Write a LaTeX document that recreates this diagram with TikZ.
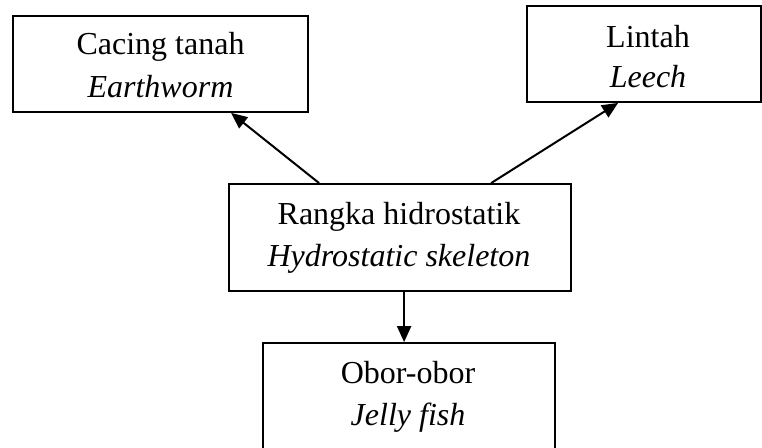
\documentclass[tikz,border=0pt]{standalone}
\usepackage{fontspec}
\setmainfont{Liberation Serif}
\usetikzlibrary{arrows.meta}
\begin{document}
\begin{tikzpicture}[x=1pt,y=1pt,
  boxnode/.style={draw=black, line width=1.8pt, rectangle, inner sep=0pt},
  lbl/.style={anchor=base, inner sep=0pt, font=\fontsize{32}{42}\selectfont},
  conn/.style={line width=2pt, -{Triangle[length=16pt,width=14pt]}}]
\useasboundingbox (0,0) rectangle (762,447);
% boxes
\node[boxnode, minimum width=295pt, minimum height=96pt] (cacing) at (160.5,383) {};
\node[boxnode, minimum width=234pt, minimum height=96pt] (lintah) at (644,393) {};
\node[boxnode, minimum width=342pt, minimum height=107pt] (hyd) at (400,209.5) {};
\node[boxnode, minimum width=292pt, minimum height=112pt] (obor) at (409,48) {};
% texts
\node[lbl] (t1) at (160.5,392) {Cacing tanah};
\node[lbl] (t2) at (160.5,349) {\itshape Earthworm};
\node[lbl] (t3) at (648,399) {Lintah};
\node[lbl] (t4) at (648,359) {\itshape Leech};
\node[lbl] (t5) at (399,222) {Rangka hidrostatik};
\node[lbl] (t6) at (399,180) {\itshape Hydrostatic skeleton};
\node[lbl] (t7) at (408,64) {Obor-obor};
\node[lbl] (t8) at (408,22) {\itshape Jelly fish};
% connectors
\draw[conn] ([xshift=91pt]hyd.north west) -- ([xshift=219pt]cacing.south west);
\draw[conn] ([xshift=263pt]hyd.north west) -- ([xshift=92pt]lintah.south west);
\draw[conn] ([xshift=176pt]hyd.south west) -- ([xshift=176pt]hyd.south west |- obor.north);
\end{tikzpicture}
\end{document}
